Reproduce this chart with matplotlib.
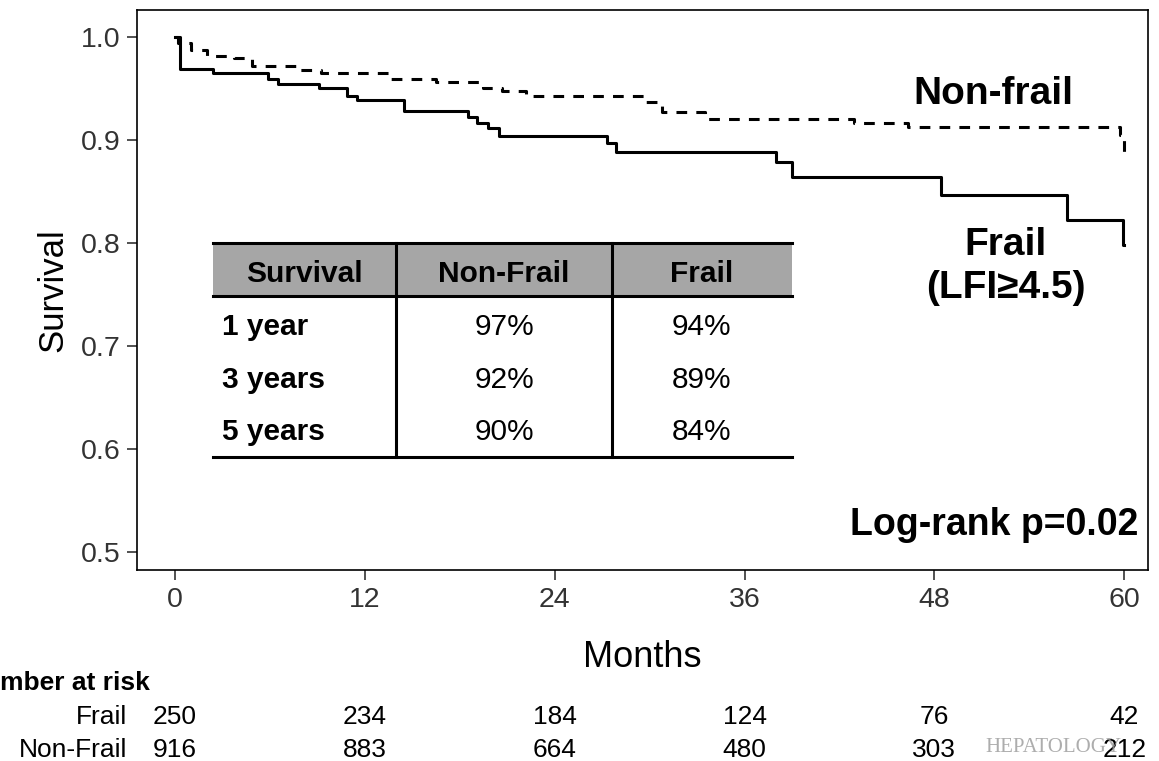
import matplotlib
matplotlib.use("Agg")
import matplotlib.pyplot as plt
from matplotlib.transforms import blended_transform_factory as btf

plt.rcParams['font.family'] = ['Liberation Sans', 'DejaVu Sans']

frail_t = [0, 0.3, 2.4, 5.9, 6.5, 9.1, 10.9, 11.5, 14.5, 18.5, 19.1, 19.8, 20.5, 27.3, 27.9, 38.0, 39.0, 48.4, 56.4, 59.9, 60]
frail_s = [1.0, 0.969, 0.965, 0.959, 0.954, 0.950, 0.943, 0.939, 0.928, 0.922, 0.916, 0.911, 0.904, 0.897, 0.888, 0.878, 0.864, 0.846, 0.822, 0.798, 0.798]
nf_t = [0, 0.2, 1.0, 2.0, 3.7, 4.9, 7.9, 9.2, 13.6, 16.5, 19.5, 20.7, 22.2, 29.8, 30.8, 33.5, 42.9, 46.3, 59.7, 60]
nf_s = [1.0, 0.994, 0.987, 0.981, 0.979, 0.972, 0.968, 0.965, 0.959, 0.956, 0.950, 0.947, 0.943, 0.937, 0.927, 0.920, 0.916, 0.912, 0.905, 0.888]

tbl_header = ["Survival", "Non-Frail", "Frail"]
tbl_rows = [["1 year", "97%", "94%"], ["3 years", "92%", "89%"], ["5 years", "90%", "84%"]]
risk_t = [0, 12, 24, 36, 48, 60]
risk_frail = [250, 234, 184, 124, 76, 42]
risk_nonfrail = [916, 883, 664, 480, 303, 212]

fig = plt.figure(figsize=(11.59, 7.61), dpi=100)
ax = fig.add_axes([137/1159, 1-570/761, 1011/1159, 560/761])
ax.step(nf_t, nf_s, where="post", color="black", lw=2.2, ls=(0, (3.5, 3)))
ax.step(frail_t, frail_s, where="post", color="black", lw=2.2)
ax.set_xlim(-2.4, 61.5)
ax.set_ylim(0.4825, 1.026)
ax.set_xticks(risk_t)
ax.set_yticks([0.5, 0.6, 0.7, 0.8, 0.9, 1.0])
ax.set_yticklabels(["0.5", "0.6", "0.7", "0.8", "0.9", "1.0"])
ax.tick_params(labelsize=20.5, colors="#333333", length=7, width=1.2, pad=5)
for s in ax.spines.values():
    s.set_linewidth(1.2)
ax.set_xlabel("Months", fontsize=26, labelpad=20)
ax.set_ylabel("Survival", fontsize=25, labelpad=8)

ax.text(51.7, 0.944, "Non-frail", fontsize=28, weight="bold", ha="center", va="center")
ax.text(52.5, 0.777, "Frail\n(LFI≥4.5)", fontsize=28, weight="bold", ha="center", va="center", linespacing=1.25)
ax.text(60.9, 0.526, "Log-rank p=0.02", fontsize=27, weight="bold", ha="right", va="center")

# inner table
x0, x1, x2, x3 = 2.4, 14.0, 27.6, 39.0
ytop, yhead, ybot = 0.800, 0.748, 0.592
ax.fill_between([x0, x3], yhead, ytop, color="#a6a6a6", lw=0, zorder=1)
ax.plot([x0, x3], [ytop, ytop], color="black", lw=2.2, zorder=2)
ax.plot([x0, x3], [yhead, yhead], color="black", lw=2.2, zorder=2)
ax.plot([x0, x3], [ybot, ybot], color="black", lw=2.2, zorder=2)
for xv in (x1, x2):
    ax.plot([xv, xv], [ybot, ytop], color="black", lw=2.2, zorder=2)
cx = [(x0 + x1) / 2, (x1 + x2) / 2, (x2 + x3) / 2]
for i, h in enumerate(tbl_header):
    ax.text(cx[i], 0.770, h, fontsize=21.5, weight="bold", ha="center", va="center")
rys = [0.718, 0.667, 0.616]
for r, yv in zip(tbl_rows, rys):
    ax.text(x0 + 0.6, yv, r[0], fontsize=21.5, weight="bold", ha="left", va="center")
    ax.text(cx[1], yv, r[1], fontsize=21.5, ha="center", va="center")
    ax.text(cx[2], yv, r[2], fontsize=21.5, ha="center", va="center")

# number at risk
tr = btf(ax.transData, fig.transFigure)
fig.text(150/1159, 1-683/761, "Number at risk", fontsize=19, weight="bold", ha="right", va="center")
fig.text(127/1159, 1-717/761, "Frail", fontsize=19, ha="right", va="center")
fig.text(127/1159, 1-750/761, "Non-Frail", fontsize=19, ha="right", va="center")
for t, a, b in zip(risk_t, risk_frail, risk_nonfrail):
    ax.text(t, 1-717/761, str(a), transform=tr, fontsize=19, ha="center", va="center")
    ax.text(t, 1-750/761, str(b), transform=tr, fontsize=19, ha="center", va="center")
fig.text(985/1159, 1-748/761, "HEPATOLOGY", fontsize=15, color="#999999", alpha=0.8,
         family="Liberation Serif", ha="left", va="center")

fig.savefig("out.png", dpi=100)
